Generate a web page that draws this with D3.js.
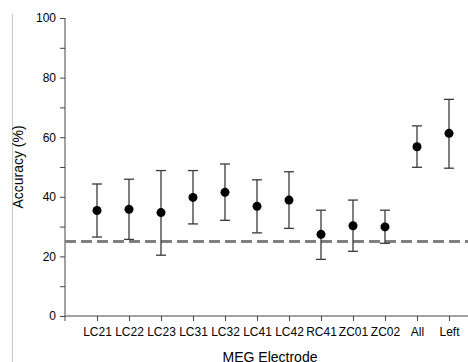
<!DOCTYPE html>
<html lang="en">
<head>
    <meta charset="UTF-8">
    <title>MEG Electrode Accuracy</title>
    <style>
        body { margin: 0; background: #fff; }
        text { font-family: "Liberation Sans", Arial, sans-serif; fill: #000; }
        .axis path, .axis line { stroke: #444; }
        .axis text { font-size: 12px; }
        .axis-label { font-size: 14px; }
    </style>
</head>
<body>
    <svg width="468" height="362"></svg>
    <script src="https://d3js.org/d3.v7.min.js"></script>
    <script>

        // Data
        const electrodes = ['LC21', 'LC22', 'LC23', 'LC31', 'LC32', 'LC41', 'LC42',
                            'RC41', 'ZC01', 'ZC02', 'All', 'Left'];
        const accuracy = [35.4, 35.8, 34.7, 39.8, 41.5, 36.8, 38.9, 27.4, 30.3, 29.9, 56.8, 61.3];
        const upper    = [44.3, 45.9, 48.8, 48.8, 51.0, 45.7, 48.4, 35.5, 38.9, 35.5, 63.8, 72.7];
        const lower    = [26.5, 25.7, 20.4, 30.9, 32.1, 27.9, 29.4, 19.0, 21.7, 24.4, 49.9, 49.6];
        const chance = 25;
        const yTickValues = [0, 10, 20, 30, 40, 50, 60, 70, 80, 90, 100];

        const svg = d3.select('svg');
        const width = +svg.attr('width');

        const plotLeft = 65, plotTop = 18, plotBottom = 316;

        const xScale = d3.scalePoint()
            .domain(electrodes)
            .range([plotLeft, plotLeft + 416])
            .padding(1);

        const yScale = d3.scaleLinear()
            .domain([0, 100])
            .range([plotBottom, plotTop]);

        // thin frame line on the left edge
        svg.append('line')
            .attr('x1', 12.5).attr('x2', 12.5)
            .attr('y1', 14).attr('y2', 362)
            .attr('stroke', '#c8c8c8');

        // y axis
        const yAxis = d3.axisLeft(yScale)
            .tickValues(yTickValues)
            .tickSize(5)
            .tickPadding(4)
            .tickFormat(d => d % 20 === 0 ? d : '');

        svg.append('g')
            .attr('class', 'axis')
            .attr('transform', 'translate(' + plotLeft + ',0)')
            .call(yAxis)
            .call(g => g.select('.domain').attr('d', 'M0,' + plotTop + 'V' + plotBottom));

        // x axis
        const xAxis = d3.axisBottom(xScale)
            .tickSize(5)
            .tickPadding(6);

        const xAxisG = svg.append('g')
            .attr('class', 'axis')
            .attr('transform', 'translate(0,' + plotBottom + ')')
            .call(xAxis);
        xAxisG.select('.domain').attr('d', 'M' + plotLeft + ',5V0H' + width);

        // chance level
        svg.append('line')
            .attr('x1', plotLeft).attr('x2', width)
            .attr('y1', yScale(chance)).attr('y2', yScale(chance))
            .attr('stroke', '#808080')
            .attr('stroke-width', 3)
            .attr('stroke-dasharray', '11,5');

        const rows = electrodes.map((e, i) => ({ e: e, v: accuracy[i], hi: upper[i], lo: lower[i] }));

        const bars = svg.append('g')
            .selectAll('g')
            .data(rows)
            .join('g')
            .attr('stroke', '#3a3a3a')
            .attr('stroke-width', 1.3);

        bars.append('line')
            .attr('x1', d => xScale(d.e)).attr('x2', d => xScale(d.e))
            .attr('y1', d => yScale(d.hi)).attr('y2', d => yScale(d.lo));

        bars.append('line')
            .attr('x1', d => xScale(d.e) - 5).attr('x2', d => xScale(d.e) + 5)
            .attr('y1', d => yScale(d.hi)).attr('y2', d => yScale(d.hi));

        bars.append('line')
            .attr('x1', d => xScale(d.e) - 5).attr('x2', d => xScale(d.e) + 5)
            .attr('y1', d => yScale(d.lo)).attr('y2', d => yScale(d.lo));

        svg.append('g')
            .selectAll('circle')
            .data(rows)
            .join('circle')
            .attr('cx', d => xScale(d.e))
            .attr('cy', d => yScale(d.v))
            .attr('r', 4.5)
            .attr('fill', '#000');

        // axis labels
        svg.append('text')
            .attr('class', 'axis-label')
            .attr('transform', 'translate(23,' + ((plotTop + plotBottom) / 2) + ') rotate(-90)')
            .attr('text-anchor', 'middle')
            .text('Accuracy (%)');

        svg.append('text')
            .attr('class', 'axis-label')
            .attr('x', 270)
            .attr('y', 362)
            .attr('text-anchor', 'middle')
            .text('MEG Electrode');

    </script>
</body>
</html>
